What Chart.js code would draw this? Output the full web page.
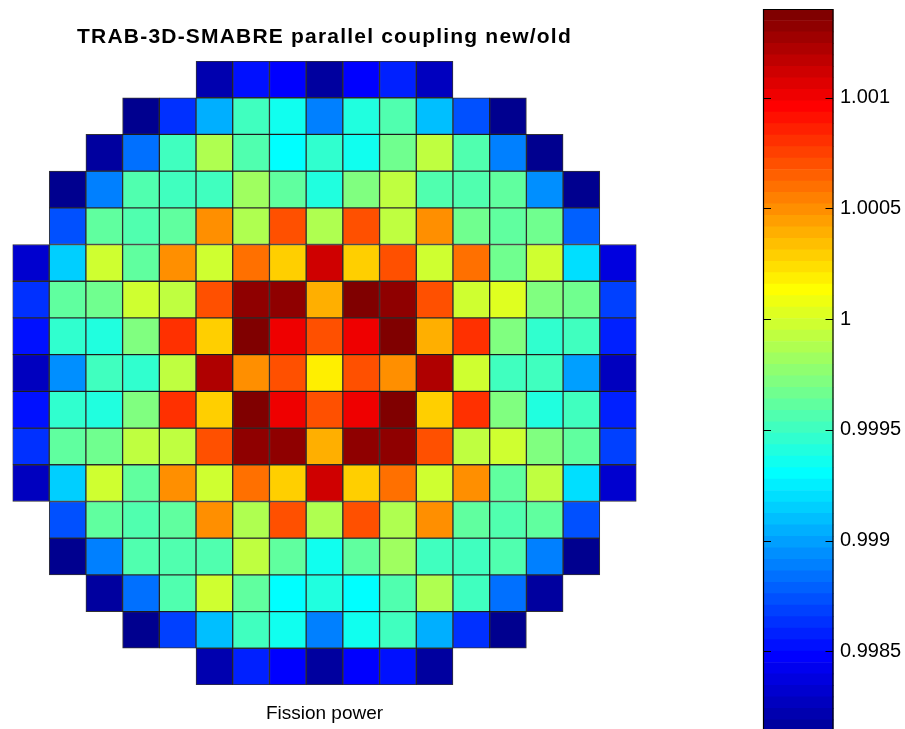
<!DOCTYPE html>
<html>
<head>
<meta charset="utf-8">
<title>TRAB-3D-SMABRE parallel coupling new/old</title>
<script src="https://cdn.jsdelivr.net/npm/chart.js@4.4.1/dist/chart.umd.min.js"></script>
<style>
  html, body { margin: 0; padding: 0; background: #fff; overflow: hidden; }
  #wrap { position: relative; width: 905px; height: 729px; }
  #wrap canvas { position: absolute; left: 0; top: 0; }
</style>
</head>
<body>
<div id="wrap">
  <canvas id="core" width="905" height="729"></canvas>
  <canvas id="bar" width="905" height="729"></canvas>
</div>
<script>
// Fission power ratio new/old per fuel assembly, row by row (top to bottom).
// null = position outside the core.
const row01 = [null, null, null, null, null, 0.998217, 0.998528, 0.998476, 0.998166, 0.998476, 0.998580, 0.998269, null, null, null, null, null];
const row02 = [null, null, null, 0.998114, 0.998632, 0.999046, 0.999511, 0.999356, 0.998890, 0.999408, 0.999563, 0.999097, 0.998735, 0.998114, null, null, null];
const row03 = [null, null, 0.998166, 0.998839, 0.999511, 0.999874, 0.999563, 0.999304, 0.999460, 0.999356, 0.999667, 0.999925, 0.999563, 0.998890, 0.998114, null, null];
const row04 = [null, 0.998114, 0.998890, 0.999563, 0.999511, 0.999511, 0.999822, 0.999615, 0.999408, 0.999718, 0.999925, 0.999563, 0.999563, 0.999615, 0.998942, 0.998114, null];
const row05 = [null, 0.998735, 0.999615, 0.999563, 0.999615, 1.000495, 0.999874, 1.000702, 0.999874, 1.000702, 0.999925, 1.000495, 0.999667, 0.999615, 0.999667, 0.998787, null];
const row06 = [0.998321, 0.999149, 0.999977, 0.999615, 1.000495, 0.999977, 1.000598, 1.000288, 1.001116, 1.000288, 1.000702, 0.999977, 1.000598, 0.999667, 0.999977, 0.999201, 0.998373];
const row07 = [0.998632, 0.999615, 0.999667, 0.999977, 0.999925, 1.000702, 1.001323, 1.001323, 1.000391, 1.001374, 1.001323, 1.000702, 0.999977, 1.000029, 0.999718, 0.999667, 0.998683];
const row08 = [0.998528, 0.999460, 0.999408, 0.999718, 1.000805, 1.000288, 1.001374, 1.001012, 1.000702, 1.001012, 1.001374, 1.000391, 1.000805, 0.999718, 0.999460, 0.999511, 0.998580];
const row09 = [0.998269, 0.998942, 0.999511, 0.999460, 0.999925, 1.001219, 1.000495, 1.000702, 1.000184, 1.000702, 1.000495, 1.001219, 0.999977, 0.999511, 0.999511, 0.998994, 0.998269];
const row10 = [0.998528, 0.999460, 0.999408, 0.999718, 1.000805, 1.000288, 1.001374, 1.001012, 1.000702, 1.001012, 1.001374, 1.000288, 1.000805, 0.999718, 0.999408, 0.999511, 0.998580];
const row11 = [0.998632, 0.999615, 0.999667, 0.999925, 0.999925, 1.000702, 1.001323, 1.001323, 1.000391, 1.001323, 1.001323, 1.000702, 0.999925, 0.999977, 0.999718, 0.999615, 0.998683];
const row12 = [0.998269, 0.999149, 0.999977, 0.999615, 1.000495, 0.999977, 1.000598, 1.000288, 1.001116, 1.000288, 1.000598, 0.999977, 1.000495, 0.999615, 0.999925, 0.999201, 0.998321];
const row13 = [null, 0.998735, 0.999615, 0.999563, 0.999615, 1.000495, 0.999874, 1.000702, 0.999874, 1.000702, 0.999874, 1.000495, 0.999615, 0.999563, 0.999615, 0.998735, null];
const row14 = [null, 0.998114, 0.998890, 0.999563, 0.999563, 0.999563, 0.999925, 0.999615, 0.999356, 0.999615, 0.999822, 0.999511, 0.999511, 0.999563, 0.998890, 0.998114, null];
const row15 = [null, null, 0.998166, 0.998839, 0.999563, 0.999977, 0.999615, 0.999304, 0.999408, 0.999304, 0.999563, 0.999874, 0.999511, 0.998839, 0.998166, null, null];
const row16 = [null, null, null, 0.998114, 0.998683, 0.999097, 0.999511, 0.999356, 0.998890, 0.999356, 0.999511, 0.999046, 0.998632, 0.998114, null, null, null];
const row17 = [null, null, null, null, null, 0.998217, 0.998580, 0.998476, 0.998166, 0.998476, 0.998528, 0.998166, null, null, null, null, null];

const coreRows = [row01, row02, row03, row04, row05, row06, row07, row08, row09,
                  row10, row11, row12, row13, row14, row15, row16, row17];
const columnLabels = ['1', '2', '3', '4', '5', '6', '7', '8', '9', '10', '11', '12', '13', '14', '15', '16', '17'];

// Colour limits and colour-bar axis
const cMin = 0.998088;
const cMax = 1.0014;
const barAxisMin = 0.99815;
const barTickValues = [0.9985, 0.999, 0.9995, 1, 1.0005, 1.001];
const barTickLabels = ['0.9985', '0.999', '0.9995', '1', '1.0005', '1.001'];
const nColors = 64;

const FONT = '"Liberation Sans", Arial, Helvetica, sans-serif';

// 64-step jet colour map
function jet(i) {
  const k = i + 1;
  let r = 0, g = 0, b = 0;
  if (k <= 8) { b = 0.5 + k / 16; }
  else if (k <= 24) { g = (k - 8) / 16; b = 1; }
  else if (k <= 40) { r = (k - 24) / 16; g = 1; b = 1 - r; }
  else if (k <= 56) { r = 1; g = 1 - (k - 40) / 16; }
  else { r = 1 - (k - 56) / 16; }
  return 'rgb(' + Math.round(r * 255) + ',' + Math.round(g * 255) + ',' + Math.round(b * 255) + ')';
}
function colorFor(v) {
  const i = Math.floor((v - cMin) / (cMax - cMin) * nColors);
  return jet(Math.min(nColors - 1, Math.max(0, i)));
}

// One floating-bar dataset per core row: each assembly spans [row, row + 1]
const coreDatasets = coreRows.map((vals, r) => ({
  label: 'row ' + (r + 1),
  data: vals.map(v => (v === null ? null : [r, r + 1])),
  values: vals,
  backgroundColor: vals.map(v => (v === null ? 'rgba(0,0,0,0)' : colorFor(v))),
  borderColor: 'rgba(0,0,0,0.8)',
  borderWidth: 1,
  borderSkipped: false,
  grouped: false,
  barPercentage: 1,
  categoryPercentage: 1
}));

// Title is drawn slightly spaced out; everything after it uses normal spacing
const textSpacing = {
  id: 'textSpacing',
  beforeDraw(chart) { chart.ctx.letterSpacing = '1.2px'; },
  beforeDatasetsDraw(chart) { chart.ctx.letterSpacing = '0px'; }
};

new Chart(document.getElementById('core'), {
  type: 'bar',
  data: { labels: columnLabels, datasets: coreDatasets },
  options: {
    responsive: false,
    animation: false,
    devicePixelRatio: 1,
    layout: { padding: { left: 12.5, right: 268.5, top: 0, bottom: 3.7 } },
    plugins: {
      legend: { display: false },
      tooltip: { enabled: false },
      title: {
        display: true,
        text: 'TRAB-3D-SMABRE parallel coupling new/old',
        color: '#000',
        font: { family: FONT, size: 21, weight: 'bold', lineHeight: 1.2 },
        padding: { top: 24.4, bottom: 11.4 }
      }
    },
    scales: {
      x: {
        type: 'category',
        grid: { display: false, drawTicks: false, z: 1 },
        border: { display: false },
        ticks: { display: false },
        title: {
          display: true,
          text: 'Fission power',
          color: '#000',
          font: { family: FONT, size: 19, lineHeight: 1.2 },
          padding: { top: 17.5, bottom: 0 }
        }
      },
      y: { type: 'linear', min: 0, max: 17, reverse: true, display: false }
    }
  },
  plugins: [textSpacing]
});

// Colour bar: 64 stacked bands on a value axis
const step = (cMax - cMin) / nColors;
const bandDatasets = [];
for (let i = 0; i < nColors; i++) {
  bandDatasets.push({
    data: [[cMin + i * step, cMin + (i + 1) * step]],
    backgroundColor: jet(i),
    borderWidth: 0,
    grouped: false,
    barPercentage: 1,
    categoryPercentage: 1
  });
}

const barFrame = {
  id: 'barFrame',
  afterDatasetsDraw(chart) {
    const { ctx, chartArea: a, scales: { y } } = chart;
    ctx.save();
    ctx.strokeStyle = '#000';
    ctx.lineWidth = 1.2;
    ctx.beginPath();
    ctx.moveTo(a.left + 0.5, a.bottom);
    ctx.lineTo(a.left + 0.5, a.top + 0.5);
    ctx.lineTo(a.right - 0.5, a.top + 0.5);
    ctx.lineTo(a.right - 0.5, a.bottom);
    for (const t of y.ticks) {
      const py = Math.round(y.getPixelForValue(t.value)) + 0.5;
      ctx.moveTo(a.left, py); ctx.lineTo(a.left + 8, py);
      ctx.moveTo(a.right - 8, py); ctx.lineTo(a.right, py);
    }
    ctx.stroke();
    ctx.restore();
  }
};

new Chart(document.getElementById('bar'), {
  type: 'bar',
  data: { labels: [''], datasets: bandDatasets },
  options: {
    responsive: false,
    animation: false,
    devicePixelRatio: 1,
    layout: { padding: { left: 763, right: 0, top: 9, bottom: 0 } },
    plugins: { legend: { display: false }, tooltip: { enabled: false } },
    scales: {
      x: { display: false },
      y: {
        type: 'linear',
        position: 'right',
        min: barAxisMin,
        max: cMax,
        afterBuildTicks(scale) { scale.ticks = barTickValues.map(v => ({ value: v })); },
        afterFit(scale) {
          scale.width = 71.5;
          scale.paddingTop = 0;
          scale.paddingBottom = 0;
        },
        grid: { display: false, drawTicks: false },
        border: { display: false },
        ticks: {
          color: '#000',
          padding: 6.5,
          font: { family: FONT, size: 20 },
          callback: (value, index) => barTickLabels[index]
        }
      }
    }
  },
  plugins: [barFrame]
});
</script>
</body>
</html>
